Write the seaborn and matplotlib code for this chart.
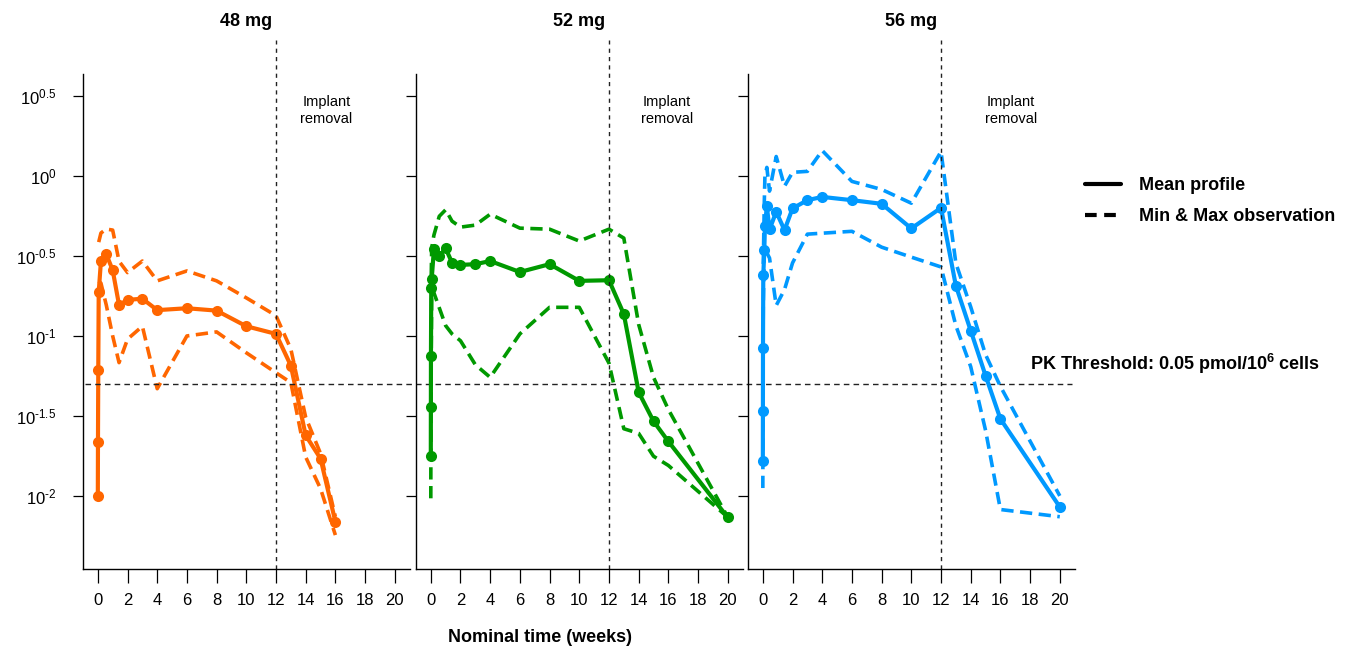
import numpy as np
import pandas as pd
import matplotlib
matplotlib.use('Agg')
import matplotlib.pyplot as plt
import seaborn as sns
from matplotlib.lines import Line2D
from matplotlib.ticker import NullLocator

# dose groups and colours
doses = ['48 mg', '52 mg', '56 mg']
colors = ['#FF6600', '#009900', '#0099FF']

# 48 mg: nominal time (weeks) and concentration (pmol/10^6 cells)
time_48 = [0, 0.01, 0.03, 0.06, 0.21, 0.57, 1, 1.43, 2, 3, 4, 6, 8, 10, 12, 13, 14, 15, 16]
mean_48 = [0.0100, 0.0217, 0.0615, 0.188, 0.294, 0.324, 0.258, 0.156, 0.168, 0.171,
           0.145, 0.149, 0.144, 0.115, 0.103, 0.0652, 0.0239, 0.0171, 0.00689]
max_48 = [np.nan, np.nan, np.nan, 0.386, 0.440, 0.466, 0.459, 0.293, 0.249, 0.294,
          0.221, 0.255, 0.221, 0.173, 0.134, 0.0828, 0.0310, 0.0184, 0.0074]
min_48 = [np.nan, np.nan, np.nan, 0.220, 0.214, 0.156, 0.100, 0.0681, 0.0955, 0.115,
          0.0468, 0.100, 0.106, 0.0785, 0.0589, 0.0511, 0.0175, 0.0111, 0.00569]

# 52 mg
time_52 = [0, 0.005, 0.01, 0.03, 0.06, 0.21, 0.57, 1, 1.43, 2, 3, 4, 6, 8, 10, 12, 13, 14, 15, 16, 20]
mean_52 = [0.0177, 0.0362, 0.0753, 0.198, 0.227, 0.348, 0.316, 0.353, 0.287, 0.278, 0.281,
           0.294, 0.251, 0.281, 0.221, 0.223, 0.137, 0.0445, 0.0293, 0.0219, 0.00733]
max_52 = [np.nan, np.nan, np.nan, 0.240, 0.355, 0.427, 0.560, 0.615, 0.522, 0.479, 0.493,
          0.577, 0.472, 0.465, 0.392, 0.465, 0.409, 0.118, 0.0551, 0.0347, 0.00736]
min_52 = [0.00966, 0.0178, 0.0355, 0.0794, 0.191, 0.186, 0.150, 0.116, 0.103, 0.0933, 0.0661,
          0.0551, 0.103, 0.151, 0.151, 0.0676, 0.0263, 0.0246, 0.0177, 0.0155, 0.00736]

# 56 mg
time_56 = [0, 0.005, 0.01, 0.03, 0.1, 0.14, 0.27, 0.45, 0.9, 1.46, 2, 3, 4, 6, 8, 10, 12, 13, 14, 15, 16, 20]
mean_56 = [0.0165, 0.0339, 0.0841, 0.240, 0.343, 0.486, 0.647, 0.463, 0.597, 0.459, 0.627,
           0.706, 0.740, 0.706, 0.670, 0.470, 0.632, 0.206, 0.108, 0.0565, 0.0303, 0.00853]
max_56 = [np.nan, np.nan, np.nan, 0.282, 0.695, 0.995, 1.132, 0.804, 1.324, 0.863, 1.054,
          1.069, 1.442, 0.925, 0.824, 0.676, 1.422, 0.285, 0.152, 0.0764, 0.0484, 0.0100]
min_56 = [0.0112, 0.0251, 0.0631, 0.159, 0.355, 0.339, 0.331, 0.307, 0.155, 0.195, 0.286,
          0.433, 0.439, 0.451, 0.359, 0.311, 0.270, 0.116, 0.0643, 0.0257, 0.00822, 0.00741]

times = [time_48, time_52, time_56]
means = [mean_48, mean_52, mean_56]
maxs = [max_48, max_52, max_56]
mins = [min_48, min_52, min_56]

threshold = 0.05
removal_week = 12
ytick_exp = ['-2', '-1.5', '-1', '-0.5', '0', '0.5']
xticks = list(range(0, 21, 2))

sns.set_style('ticks')
plt.rcParams['font.family'] = ['Liberation Sans', 'DejaVu Sans']
plt.rcParams['mathtext.fontset'] = 'custom'
plt.rcParams['mathtext.rm'] = 'Liberation Sans'
plt.rcParams['mathtext.bf'] = 'Liberation Sans:bold'
plt.rcParams['mathtext.default'] = 'regular'
for key in ['text.color', 'axes.labelcolor', 'xtick.color', 'ytick.color', 'axes.edgecolor']:
    plt.rcParams[key] = 'black'

fig = plt.figure(figsize=(13.47, 6.52), dpi=100)
lefts = [0.0616, 0.3088, 0.5553]
axes = [fig.add_axes([l, 0.1273, 0.2425, 0.8113]) for l in lefts]
text_x = [15.4, 15.9, 16.7]

ylo, yhi = 10 ** -2.457, 10 ** 0.85

for i, ax in enumerate(axes):
    ax.patch.set_visible(False)
    df = pd.DataFrame({'time': times[i], 'mean': means[i], 'max': maxs[i], 'min': mins[i]})
    for col in ['max', 'min']:
        sns.lineplot(data=df, x='time', y=col, ax=ax, color=colors[i], lw=2.6,
                     linestyle=(0, (3.4, 1.8)), estimator=None)
    sns.lineplot(data=df, x='time', y='mean', ax=ax, color=colors[i], lw=3.0,
                 marker='o', markersize=8, markeredgewidth=0, estimator=None)

    ax.set_yscale('log')
    ax.set_ylim(ylo, yhi)
    ax.set_xlim(-1, 21)
    ax.set_yticks([10 ** float(e) for e in ytick_exp])
    ax.yaxis.set_minor_locator(NullLocator())
    if i == 0:
        # plain hyphen in the exponent, as in the original
        ax.set_yticklabels([r'$10^{\text{%s}}$' % e for e in ytick_exp])
    else:
        ax.set_yticklabels([])
    ax.set_xticks(xticks)
    ax.set_xticklabels([str(t) for t in xticks])
    ax.set_xlabel('')
    ax.set_ylabel('')
    ax.tick_params(axis='x', length=10, width=0.9, pad=7, labelsize=12)
    ax.tick_params(axis='y', length=7, width=0.9, pad=12, labelsize=12)
    ax.spines[['top', 'right']].set_visible(False)
    ax.spines['left'].set_bounds(ylo, 10 ** 0.64)
    for s in ['left', 'bottom']:
        ax.spines[s].set_linewidth(1.0)

    ax.axvline(removal_week, color='#222222', lw=1, ls=(0, (3, 3)))
    ax.text(text_x[i], 10 ** 0.41, 'Implant\nremoval', ha='center', va='center',
            fontsize=10.5, linespacing=1.25)
    ax.set_title(doses[i], fontweight='bold', fontsize=13, pad=10)

# PK threshold spanning the three panels
axes[0].axhline(threshold, xmin=(85 - 83) / 326, xmax=(1070 - 83) / 326, color='#222222',
                lw=1, ls=(0, (4, 3)), clip_on=False)
fig.text(1030 / 1347, 1 - 364 / 652, 'PK Threshold: 0.05 pmol/10$^{6}$ cells',
         ha='left', va='center', fontsize=13, fontweight='bold')

fig.text(540 / 1347, 1 - 637 / 652, 'Nominal time (weeks)', ha='center', va='center',
         fontsize=13, fontweight='bold')

handles = [Line2D([], [], color='black', lw=3),
           Line2D([], [], color='black', lw=3, ls=(0, (2.8, 1.8)))]
fig.legend(handles, ['Mean profile', 'Min & Max observation'], loc='upper left',
           bbox_to_anchor=(0.8055, 0.7285), frameon=False, borderpad=0, borderaxespad=0,
           handlelength=2.0, handletextpad=1.0, labelspacing=0.8,
           prop={'weight': 'bold', 'size': 13})

fig.savefig('out.png', dpi=100)
